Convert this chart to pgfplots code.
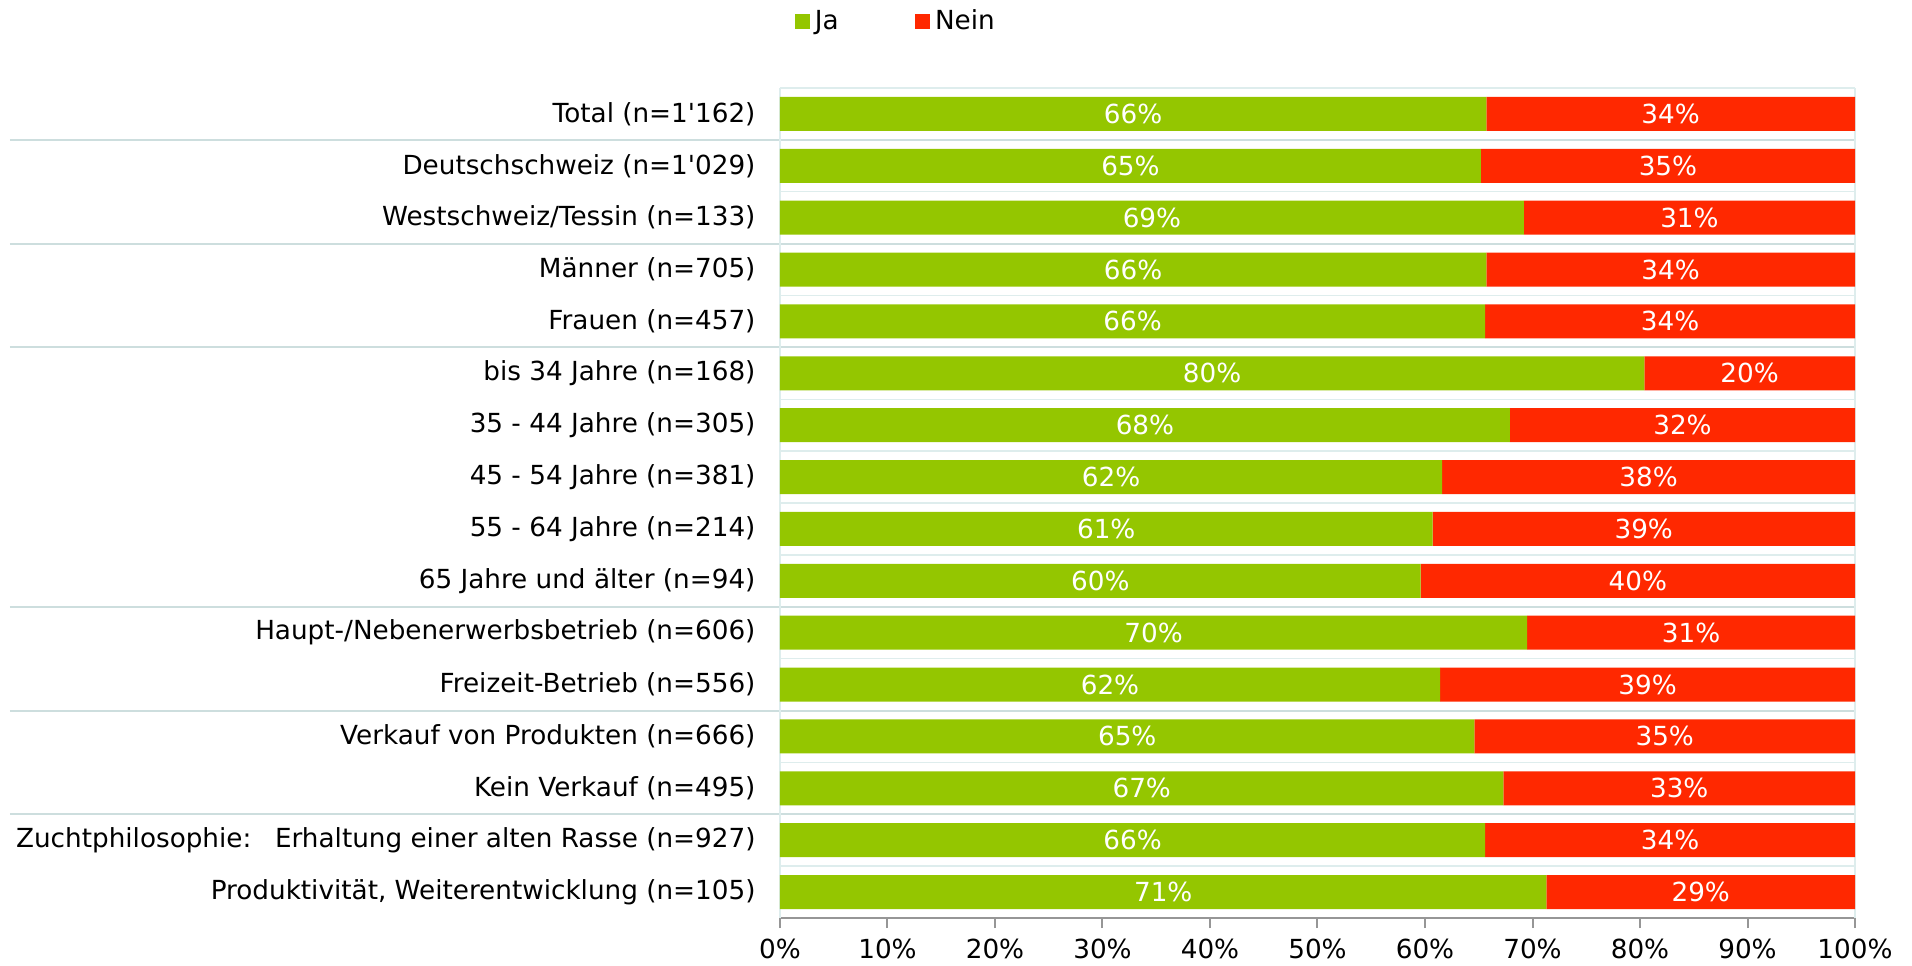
\documentclass[border=0pt]{standalone}
\usepackage{fontspec}
\setmainfont{DejaVu Sans}[Ligatures=TeXOff]
\usepackage{pgfplots}
\pgfplotsset{compat=1.18}
\usepackage{pgfplotstable}

\definecolor{ja}{RGB}{148,198,0}
\definecolor{nein}{RGB}{255,40,0}
\definecolor{rowline}{RGB}{222,237,237}
\definecolor{sepline}{RGB}{205,222,222}
\definecolor{axisgrey}{RGB}{150,150,150}

% idx 0 = top row (Total); ja/nein = bar lengths, jal/neinl = printed labels
\pgfplotstableread{
idx ja   nein jal neinl
0   65.7 34.3 66  34
1   65.2 34.8 65  35
2   69.2 30.8 69  31
3   65.7 34.3 66  34
4   65.6 34.4 66  34
5   80.4 19.6 80  20
6   67.9 32.1 68  32
7   61.6 38.4 62  38
8   60.7 39.3 61  39
9   59.6 40.4 60  40
10  69.5 30.5 70  31
11  61.4 38.6 62  39
12  64.6 35.4 65  35
13  67.3 32.7 67  33
14  65.6 34.4 66  34
15  71.3 28.7 71  29
}\data

\begin{document}
\begin{tikzpicture}[font=\fontsize{10.5}{12.6}\selectfont]
\useasboundingbox (-312pt,-18.8pt) rectangle (452.8pt,367.2pt);
\begin{axis}[
  at={(0,0)}, anchor=south west,
  scale only axis, width=430pt, height=332pt,
  xbar stacked, bar width=13.6pt,
  xmin=0, xmax=100, ymin=-0.5, ymax=15.5,
  clip=false,
  axis x line*=bottom, axis y line*=left,
  x axis line style={-, axisgrey, line width=0.8pt},
  y axis line style={draw=none},
  xtick={0,10,...,100},
  xticklabel={\pgfmathprintnumber{\tick}\%},
  /pgf/number format/assume math mode=true,
  xtick style={axisgrey, line width=0.8pt},
  tick align=outside, major tick length=4pt, minor tick length=0pt,
  xticklabel style={yshift=-1pt},
  ytick={0,...,15},
  ytick style={draw=none},
  yticklabels={
    {Produktivität, Weiterentwicklung (n=105)},
    Zuchtphilosophie:\hspace{0.9em}Erhaltung einer alten Rasse (n=927),
    Kein Verkauf (n=495),
    Verkauf von Produkten (n=666),
    Freizeit-Betrieb (n=556),
    Haupt-/Nebenerwerbsbetrieb (n=606),
    65 Jahre und älter (n=94),
    55 - 64 Jahre (n=214),
    45 - 54 Jahre (n=381),
    35 - 44 Jahre (n=305),
    bis 34 Jahre (n=168),
    Frauen (n=457),
    Männer (n=705),
    Westschweiz/Tessin (n=133),
    Deutschschweiz (n=1'029),
    Total (n=1'162)},
  yticklabel style={anchor=east, inner sep=0pt, xshift=-5.6pt},
  minor ytick={-0.5,0.5,...,15.5},
  yminorgrids=true,
  minor y grid style={rowline, line width=0.6pt},
  legend columns=2,
  legend style={draw=none, fill=none, inner sep=0pt, outer sep=0pt,
    at={(rel axis cs:0,1)}, anchor=west, xshift=6pt, yshift=26.6pt,
    nodes={inner sep=0pt},
    /tikz/every even column/.append style={column sep=30.5pt}},
  legend image code/.code={\fill[#1] (0pt,-3pt) rectangle (6pt,3pt); \path (8pt,0pt);},
]
\addplot[fill=ja, draw=none] table[x=ja, y expr=15-\thisrow{idx}] {\data};
\addplot[fill=nein, draw=none] table[x=nein, y expr=15-\thisrow{idx}] {\data};
\legend{Ja,Nein}
\draw[rowline, line width=0.6pt] (axis cs:0,-0.5) -- (axis cs:0,15.5);
\draw[rowline, line width=0.6pt] (axis cs:100,-0.5) -- (axis cs:100,15.5);
\pgfplotsinvokeforeach{14.5,12.5,10.5,5.5,3.5,1.5}{
  \draw[sepline, line width=0.8pt] ([xshift=-308pt]axis cs:0,#1) -- (axis cs:100,#1);
}
\end{axis}
\begin{axis}[
  at={(0,0)}, anchor=south west,
  scale only axis, width=430pt, height=332pt,
  xmin=0, xmax=100, ymin=-0.5, ymax=15.5,
  hide axis, clip=false,
]
\addplot[only marks, mark=*, mark size=0pt, mark options={draw=none, fill=none},
  point meta=explicit symbolic, nodes near coords={\pgfplotspointmeta\%},
  every node near coord/.append style={anchor=center, text=white}]
  table[x expr=\thisrow{ja}/2, y expr=15-\thisrow{idx}, meta=jal] {\data};
\addplot[only marks, mark=*, mark size=0pt, mark options={draw=none, fill=none},
  point meta=explicit symbolic, nodes near coords={\pgfplotspointmeta\%},
  every node near coord/.append style={anchor=center, text=white}]
  table[x expr=\thisrow{ja}+\thisrow{nein}/2, y expr=15-\thisrow{idx}, meta=neinl] {\data};
\end{axis}
\end{tikzpicture}
\end{document}
